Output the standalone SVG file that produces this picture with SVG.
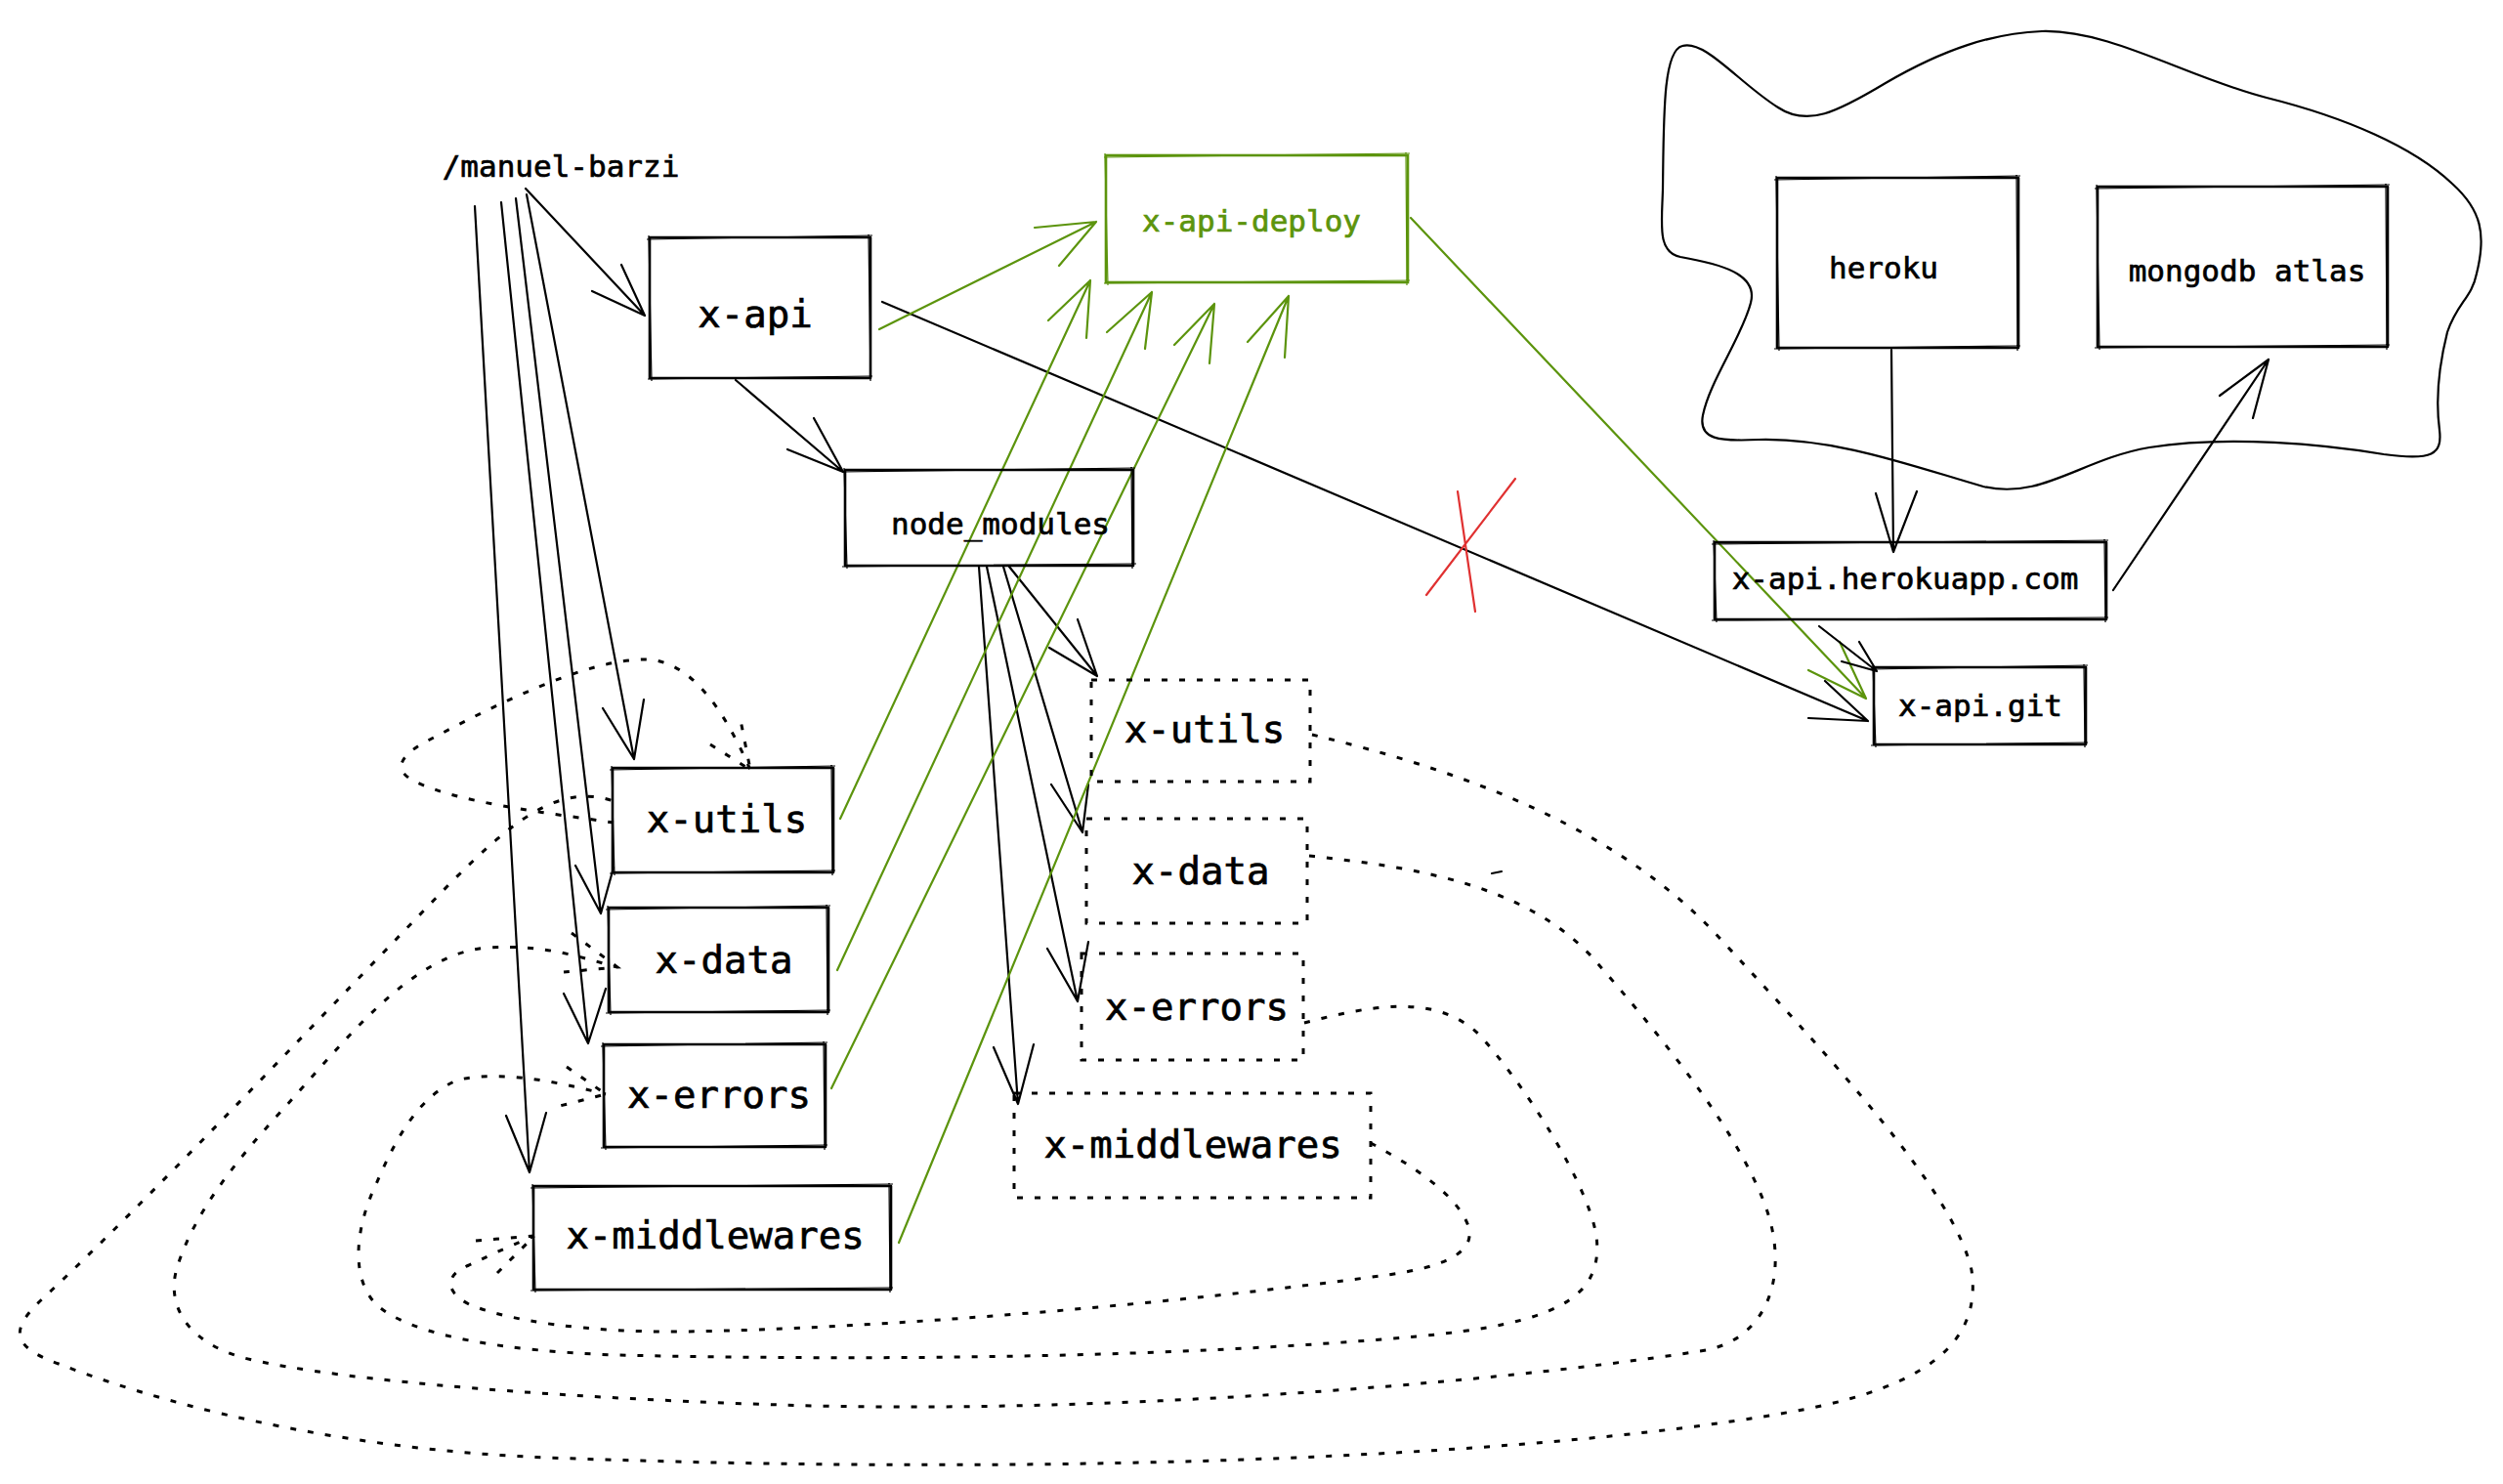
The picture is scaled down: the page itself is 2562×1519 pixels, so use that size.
<svg xmlns="http://www.w3.org/2000/svg" width="2562" height="1519" viewBox="0 0 2562 1519">
<style>
.bg{fill:#ffffff}
.box{fill:none;stroke:#000;stroke-width:2.6;stroke-linejoin:round}
.box2{fill:none;stroke:#000;stroke-width:1.2;stroke-linejoin:round}
.dbox{fill:none;stroke:#000;stroke-width:3;stroke-dasharray:6 12}
.gbox{fill:none;stroke:#5c940d;stroke-width:2.6}
.gbox2{fill:none;stroke:#5c940d;stroke-width:1.2}
.ln{fill:none;stroke:#000;stroke-width:2.2;stroke-linecap:round;stroke-linejoin:round}
.gln{fill:none;stroke:#5c940d;stroke-width:2.2;stroke-linecap:round;stroke-linejoin:round}
.dln{fill:none;stroke:#000;stroke-width:3;stroke-dasharray:6 12}
.rln{fill:none;stroke:#e03131;stroke-width:2.2;stroke-linecap:round}
.t{font-family:"DejaVu Sans Mono","Liberation Mono",monospace;fill:#000;stroke:#000;stroke-width:0.7;text-anchor:middle}
.s{font-size:31px}
.b{font-size:39px}
.g{fill:#5c940d;stroke:#5c940d}
</style>
<rect class="bg" x="0" y="0" width="2562" height="1519"/>

<g id="cloud">
<path class="ln" d="M 1722,47 C 1702,52 1703,120 1702,194 C 1701,230 1696,258 1720,263 C 1760,270 1800,280 1792,310 C 1783,345 1750,390 1743,425 C 1738,450 1760,452 1800,450 C 1880,448 1960,478 2030,498 C 2090,512 2130,470 2200,458 C 2280,445 2380,455 2440,465 C 2490,472 2500,465 2497,440 C 2493,410 2495,380 2505,340 C 2515,310 2530,305 2535,280 C 2545,240 2540,215 2510,188 C 2470,150 2400,120 2320,100 C 2240,80 2160,30 2090,32 C 2040,34 1990,50 1930,85 C 1880,115 1850,130 1820,110 C 1780,85 1745,40 1722,47 Z"/>
</g>

<g id="connectors">
<path class="ln" d="M 538,193 L 660,323 M 606,298 L 660,323 L 636,271"/>
<path class="ln" d="M 539,199 L 649,777 M 617,725 L 649,777 L 659,716"/>
<path class="ln" d="M 528,203 L 615,935 M 589,886 L 615,935 L 628,888"/>
<path class="ln" d="M 513,207 L 602,1068 M 577,1017 L 602,1068 L 620,1012"/>
<path class="ln" d="M 486,211 L 542,1200 M 518,1142 L 542,1200 L 559,1139"/>
<path class="ln" d="M 753,389 L 863,483 M 806,460 L 863,483 L 833,428"/>
<path class="ln" d="M 1033,580 L 1123,692 M 1074,663 L 1123,692 L 1103,634"/>
<path class="ln" d="M 1027,580 L 1108,852 M 1076,803 L 1108,852 L 1114,803"/>
<path class="ln" d="M 1010,580 L 1103,1025 M 1072,971 L 1103,1025 L 1114,964"/>
<path class="ln" d="M 1002,580 L 1042,1130 M 1017,1072 L 1042,1130 L 1058,1069"/>
<path class="ln" d="M 903,309 L 1912,738 M 1851,735 L 1912,738 L 1868,697"/>
<path class="rln" d="M 1551,490 L 1460,609 M 1492,503 L 1510,626"/>
<path class="gln" d="M 900,337 L 1122,227 M 1059,233 L 1122,227 L 1084,272"/>
<path class="gln" d="M 860,838 L 1116,287 M 1073,328 L 1116,287 L 1112,346"/>
<path class="gln" d="M 857,993 L 1179,299 M 1133,340 L 1179,299 L 1172,357"/>
<path class="gln" d="M 851,1114 L 1243,311 M 1202,353 L 1243,311 L 1238,372"/>
<path class="gln" d="M 920,1272 L 1319,303 M 1277,350 L 1319,303 L 1315,366"/>
<path class="gln" d="M 1444,223 L 1910,715 M 1851,686 L 1910,715 L 1883,657"/>
<path class="ln" d="M 1936,358 L 1938,565 M 1920,505 L 1938,565 L 1962,503"/>
<path class="ln" d="M 2163,604 L 2322,368 M 2272,405 L 2322,368 L 2306,428"/>
<path class="ln" d="M 1862,641 L 1921,687 M 1885,677 L 1921,687 L 1903,657"/>
<path class="dln" d="M 1343,752 C 1480,785 1650,840 1760,960 C 1880,1090 2000,1220 2018,1300 C 2030,1380 1960,1420 1850,1442 C 1600,1490 1100,1512 560,1492 C 380,1485 200,1450 60,1396 C 10,1378 10,1360 45,1328 C 150,1230 300,1070 460,905 C 520,845 570,800 628,820"/>
<path class="dln" d="M 628,842 C 560,832 470,822 425,800 C 400,788 410,772 440,757 C 510,720 600,675 660,675 C 710,675 745,735 768,788 M 727,762 L 768,788 L 758,737"/>
<path class="dln" d="M 1340,876 C 1450,888 1560,905 1630,980 C 1700,1060 1790,1170 1812,1250 C 1830,1320 1800,1375 1740,1383 C 1500,1420 1100,1448 800,1438 C 600,1432 350,1415 250,1390 C 185,1372 170,1330 182,1295 C 200,1240 240,1190 290,1135 C 350,1070 420,975 500,970 C 560,966 600,982 632,990 M 585,955 L 632,990 L 577,995"/>
<path class="dln" d="M 1335,1047 C 1400,1030 1470,1015 1515,1060 C 1560,1110 1625,1210 1634,1265 C 1642,1330 1590,1355 1450,1368 C 1200,1390 900,1393 630,1387 C 520,1383 420,1368 385,1335 C 360,1310 362,1260 385,1212 C 405,1165 430,1120 470,1105 C 520,1095 580,1110 620,1120 M 580,1092 L 620,1120 L 573,1132"/>
<path class="dln" d="M 1403,1170 C 1440,1190 1490,1220 1503,1255 C 1512,1285 1470,1298 1420,1305 C 1200,1335 900,1360 700,1363 C 600,1364 520,1352 480,1335 C 455,1322 455,1305 480,1295 C 505,1283 530,1272 547,1265 M 487,1270 L 547,1265 L 505,1307"/>
<path class="ln" d="M 1527,894 L 1537,892"/>
</g>

<g id="manuel-barzi">
<text class="t s" x="574" y="181">/manuel-barzi</text>
</g>
<g id="x-api">
<rect class="box" x="665" y="243" width="226" height="144"/>
<path class="box2" d="M 662,245 L 893,241 M 889,240 L 891,390 M 893,385 L 663,388 M 667,390 L 664,241"/>
<text class="t b" x="773" y="335">x-api</text>
</g>
<g id="x-api-deploy">
<rect class="gbox" x="1132" y="159" width="309" height="130"/>
<path class="gbox2" d="M 1130,161 L 1443,157 M 1439,156 L 1440,292 M 1443,287 L 1130,290 M 1134,292 L 1131,157"/>
<text class="t s g" x="1281" y="237">x-api-deploy</text>
</g>
<g id="node_modules">
<rect class="box" x="865" y="481" width="295" height="98"/>
<path class="box2" d="M 862,483 L 1162,479 M 1158,478 L 1159,582 M 1163,577 L 862,580 M 867,582 L 864,479"/>
<text class="t s" x="1024" y="547">node_modules</text>
</g>
<g id="heroku">
<rect class="box" x="1819" y="182" width="247" height="174"/>
<path class="box2" d="M 1816,184 L 2068,180 M 2064,179 L 2065,359 M 2068,354 L 1816,357 M 1821,359 L 1818,180"/>
<text class="t s" x="1928" y="285">heroku</text>
</g>
<g id="mongodb-atlas">
<rect class="box" x="2147" y="191" width="297" height="164"/>
<path class="box2" d="M 2144,193 L 2446,189 M 2442,188 L 2443,358 M 2446,353 L 2144,356 M 2149,358 L 2146,189"/>
<text class="t s" x="2300" y="288">mongodb atlas</text>
</g>
<g id="x-api-herokuapp">
<rect class="box" x="1755" y="555" width="401" height="79"/>
<path class="box2" d="M 1752,557 L 2158,553 M 2154,552 L 2155,637 M 2158,632 L 1752,635 M 1757,637 L 1754,553"/>
<text class="t s" x="1950" y="603">x-api.herokuapp.com</text>
</g>
<g id="x-api-git">
<rect class="box" x="1918" y="683" width="217" height="79"/>
<path class="box2" d="M 1915,685 L 2137,681 M 2133,680 L 2134,765 M 2137,760 L 1915,763 M 1920,765 L 1917,681"/>
<text class="t s" x="2027" y="733">x-api.git</text>
</g>
<g id="x-utils">
<rect class="box" x="627" y="786" width="226" height="107"/>
<path class="box2" d="M 624,788 L 855,784 M 851,783 L 852,896 M 855,891 L 624,894 M 629,896 L 626,784"/>
<text class="t b" x="744" y="852">x-utils</text>
</g>
<g id="x-data">
<rect class="box" x="623" y="929" width="225" height="107"/>
<path class="box2" d="M 620,931 L 850,927 M 846,926 L 847,1039 M 850,1034 L 620,1037 M 625,1039 L 622,927"/>
<text class="t b" x="741" y="996">x-data</text>
</g>
<g id="x-errors">
<rect class="box" x="618" y="1069" width="227" height="105"/>
<path class="box2" d="M 615,1071 L 847,1067 M 843,1066 L 844,1177 M 847,1172 L 615,1175 M 620,1177 L 617,1067"/>
<text class="t b" x="736" y="1134">x-errors</text>
</g>
<g id="x-middlewares">
<rect class="box" x="546" y="1214" width="366" height="106"/>
<path class="box2" d="M 543,1216 L 914,1212 M 910,1211 L 911,1323 M 914,1318 L 543,1321 M 548,1323 L 545,1212"/>
<text class="t b" x="732" y="1278">x-middlewares</text>
</g>
<g id="nm-x-utils">
<rect class="dbox" x="1117" y="696" width="224" height="104"/>
<text class="t b" x="1233" y="760">x-utils</text>
</g>
<g id="nm-x-data">
<rect class="dbox" x="1112" y="838" width="226" height="107"/>
<text class="t b" x="1229" y="905">x-data</text>
</g>
<g id="nm-x-errors">
<rect class="dbox" x="1107" y="976" width="227" height="109"/>
<text class="t b" x="1225" y="1044">x-errors</text>
</g>
<g id="nm-x-middlewares">
<rect class="dbox" x="1038" y="1119" width="365" height="107"/>
<text class="t b" x="1221" y="1185">x-middlewares</text>
</g>
</svg>
